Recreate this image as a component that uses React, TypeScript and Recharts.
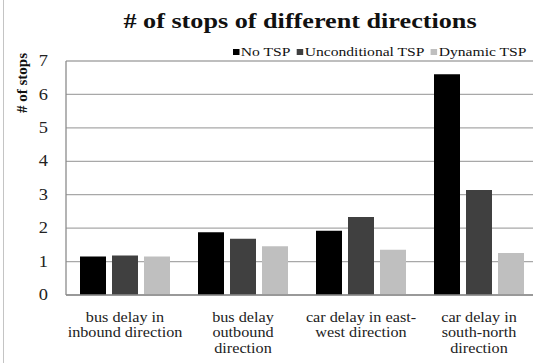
import React from 'react';
import { BarChart, Bar, XAxis, YAxis, CartesianGrid } from 'recharts';

const categories = [
  'bus delay in|inbound direction',
  'bus delay|outbound|direction',
  'car delay in east-|west direction',
  'car delay in|south-north|direction',
];
const noTSP = [1.15, 1.88, 1.92, 6.6];
const unconditionalTSP = [1.18, 1.68, 2.33, 3.14];
const dynamicTSP = [1.15, 1.46, 1.35, 1.26];
const yTicks = [0, 1, 2, 3, 4, 5, 6, 7];
const seriesNames = ['No TSP', 'Unconditional TSP', 'Dynamic TSP'];
const seriesColors = ['#000000', '#404040', '#bfbfbf'];

const data = categories.map((c, i) => ({
  name: c,
  noTSP: noTSP[i],
  unconditionalTSP: unconditionalTSP[i],
  dynamicTSP: dynamicTSP[i],
}));

const FONT = '"Times New Roman", "Liberation Serif", serif';

const XTick = (props: any) => {
  const { x, y, payload } = props;
  const lines = String(payload.value).split('|');
  return (
    <g transform={`translate(${x},0) scale(1.08,1) translate(${-x},0)`}>
      {lines.map((l: string, i: number) => (
        <text
          key={i}
          x={x}
          y={y + 19 + i * 15.5}
          textAnchor="middle"
          style={{ fontFamily: FONT }}
          fontSize={15}
          fill="#222"
        >
          {l}
        </text>
      ))}
    </g>
  );
};

const YTick = (props: any) => {
  const { x, y, payload } = props;
  return (
    <g transform={`translate(${x},0) scale(1.15,1) translate(${-x},0)`}>
      <text
        x={x}
        y={y}
        textAnchor="end"
        dominantBaseline="central"
        style={{ fontFamily: FONT }}
        fontSize={16}
        fill="#222"
      >
        {payload.value}
      </text>
    </g>
  );
};

export default function App() {
  return (
    <div
      style={{
        position: 'fixed',
        left: 0,
        top: 0,
        width: 533,
        height: 363,
        overflow: 'hidden',
        background: '#fff',
        fontFamily: FONT,
      }}
    >
      <div style={{ position: 'absolute', left: 3, top: 0, width: 1, height: 363, background: '#c4c4c4' }} />
      <div
        style={{
          position: 'absolute',
          left: 100,
          width: 400,
          top: 8,
          textAlign: 'center',
          fontFamily: FONT,
          fontWeight: 'bold',
          fontSize: 22,
          lineHeight: '26px',
          color: '#111',
          transform: 'scaleX(1.19)',
          transformOrigin: 'center top',
        }}
      >
        # of stops of different directions
      </div>
      <div style={{ position: 'absolute', left: 0, top: 0 }}>
        <BarChart
          width={560}
          height={363}
          data={data}
          margin={{ top: 61, right: 22, left: 30, bottom: 0 }}
          barSize={26}
          barGap={6}
          style={{ fontFamily: FONT }}
        >
          <CartesianGrid vertical={false} stroke="#a8a8a8" strokeWidth={1.3} />
          <XAxis
            dataKey="name"
            height={68}
            tickLine={false}
            axisLine={{ stroke: '#8c8c8c', strokeWidth: 1.3 }}
            tick={<XTick />}
            interval={0}
          />
          <YAxis
            width={36}
            domain={[0, 7]}
            ticks={yTicks}
            tickLine={false}
            axisLine={{ stroke: '#8c8c8c', strokeWidth: 1.3 }}
            tickMargin={12}
            tick={<YTick />}
            label={{
              content: () => (
                <text
                  x={22}
                  y={83}
                  transform="rotate(-90 22 83)"
                  textAnchor="middle"
                  dominantBaseline="central"
                  style={{ fontFamily: FONT }}
                  fontWeight="bold"
                  fontSize={15}
                  fill="#111"
                >
                  # of stops
                </text>
              ),
            }}
          />
          <Bar dataKey="noTSP" fill={seriesColors[0]} isAnimationActive={false} />
          <Bar dataKey="unconditionalTSP" fill={seriesColors[1]} isAnimationActive={false} />
          <Bar dataKey="dynamicTSP" fill={seriesColors[2]} isAnimationActive={false} />
        </BarChart>
      </div>
      <div
        style={{
          position: 'absolute',
          left: 233,
          top: 46,
          transform: 'scaleX(1.3)',
          transformOrigin: 'left top',
          whiteSpace: 'nowrap',
          fontFamily: FONT,
          fontSize: 12,
          lineHeight: '12px',
          color: '#111',
          display: 'flex',
          gap: 5,
        }}
      >
        {seriesNames.map((n, i) => (
          <span key={n} style={{ display: 'inline-flex', alignItems: 'center' }}>
            <span
              style={{
                display: 'inline-block',
                width: 5,
                height: 6,
                background: seriesColors[i],
                marginRight: 1,
              }}
            />
            {n}
          </span>
        ))}
      </div>
    </div>
  );
}
